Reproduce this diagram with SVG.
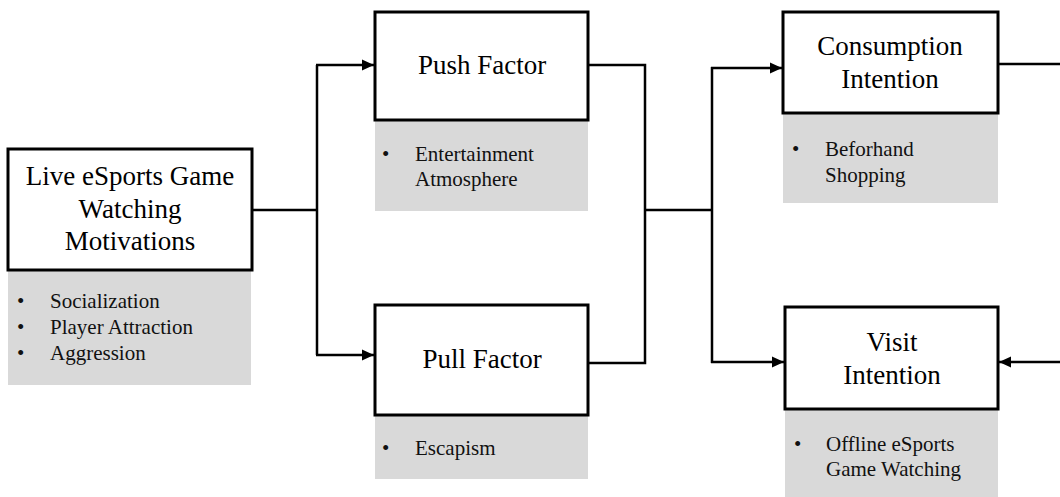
<svg xmlns="http://www.w3.org/2000/svg" width="1060" height="497" viewBox="0 0 1060 497">
<defs>
<marker id="ah" viewBox="0 0 12 12" refX="12" refY="6" markerWidth="12" markerHeight="12" markerUnits="userSpaceOnUse" orient="auto">
<path d="M0,0.5 L12,6 L0,11.5 Z" fill="#000"/>
</marker>
<style>
.box{fill:#fff;stroke:#000;stroke-width:3}
.pad{fill:#d9d9d9}
.title{font-family:"Liberation Serif","Times New Roman",serif;font-size:27px;text-anchor:middle;fill:#000}
.item{font-family:"Liberation Serif","Times New Roman",serif;font-size:21px;fill:#111}
.ln{fill:none;stroke:#000;stroke-width:2.5}
</style>
</defs>
<rect width="1060" height="497" fill="#fff"/>
<g id="motivations">
<rect class="pad" x="8" y="270" width="243" height="115"/>
<rect class="box" x="8" y="149" width="244" height="121"/>
<text class="title" x="130" y="185">Live eSports Game</text>
<text class="title" x="130" y="218">Watching</text>
<text class="title" x="130" y="250">Motivations</text>
<text class="item" x="17" y="308">•</text>
<text class="item" x="50" y="308">Socialization</text>
<text class="item" x="17" y="334">•</text>
<text class="item" x="50" y="334">Player Attraction</text>
<text class="item" x="17" y="360">•</text>
<text class="item" x="50" y="360">Aggression</text>
</g>
<g id="push">
<rect class="pad" x="375" y="120" width="213" height="91"/>
<rect class="box" x="375" y="12" width="213" height="108"/>
<text class="title" x="482" y="74">Push Factor</text>
<text class="item" x="382" y="161">•</text>
<text class="item" x="415" y="161">Entertainment</text>
<text class="item" x="415" y="186">Atmosphere</text>
</g>
<g id="pull">
<rect class="pad" x="375" y="415" width="213" height="64"/>
<rect class="box" x="375" y="305" width="213" height="110"/>
<text class="title" x="482" y="368">Pull Factor</text>
<text class="item" x="382" y="455">•</text>
<text class="item" x="415" y="455">Escapism</text>
</g>
<g id="consumption">
<rect class="pad" x="783" y="113" width="215" height="90"/>
<rect class="box" x="783" y="12" width="215" height="101"/>
<text class="title" x="890" y="55">Consumption</text>
<text class="title" x="890" y="88">Intention</text>
<text class="item" x="792" y="156">•</text>
<text class="item" x="825" y="156">Beforhand</text>
<text class="item" x="825" y="182">Shopping</text>
</g>
<g id="visit">
<rect class="pad" x="785" y="409" width="213" height="88"/>
<rect class="box" x="785" y="307" width="213" height="102"/>
<text class="title" x="892" y="351">Visit</text>
<text class="title" x="892" y="384">Intention</text>
<text class="item" x="794" y="451">•</text>
<text class="item" x="826" y="451">Offline eSports</text>
<text class="item" x="826" y="476">Game Watching</text>
</g>
<g id="connectors">
<path class="ln" d="M252,210 H317"/>
<path class="ln" d="M317,65 V355"/>
<path class="ln" d="M316,65 H374" marker-end="url(#ah)"/>
<path class="ln" d="M316,355 H374" marker-end="url(#ah)"/>
<path class="ln" d="M588,65 H645 V363 H588"/>
<path class="ln" d="M645,210 H712"/>
<path class="ln" d="M712,67 V363"/>
<path class="ln" d="M711,68 H782" marker-end="url(#ah)"/>
<path class="ln" d="M711,362 H784" marker-end="url(#ah)"/>
<path class="ln" d="M998,64 H1060"/>
<path class="ln" d="M1060,362 H999" marker-end="url(#ah)"/>
</g>
</svg>
